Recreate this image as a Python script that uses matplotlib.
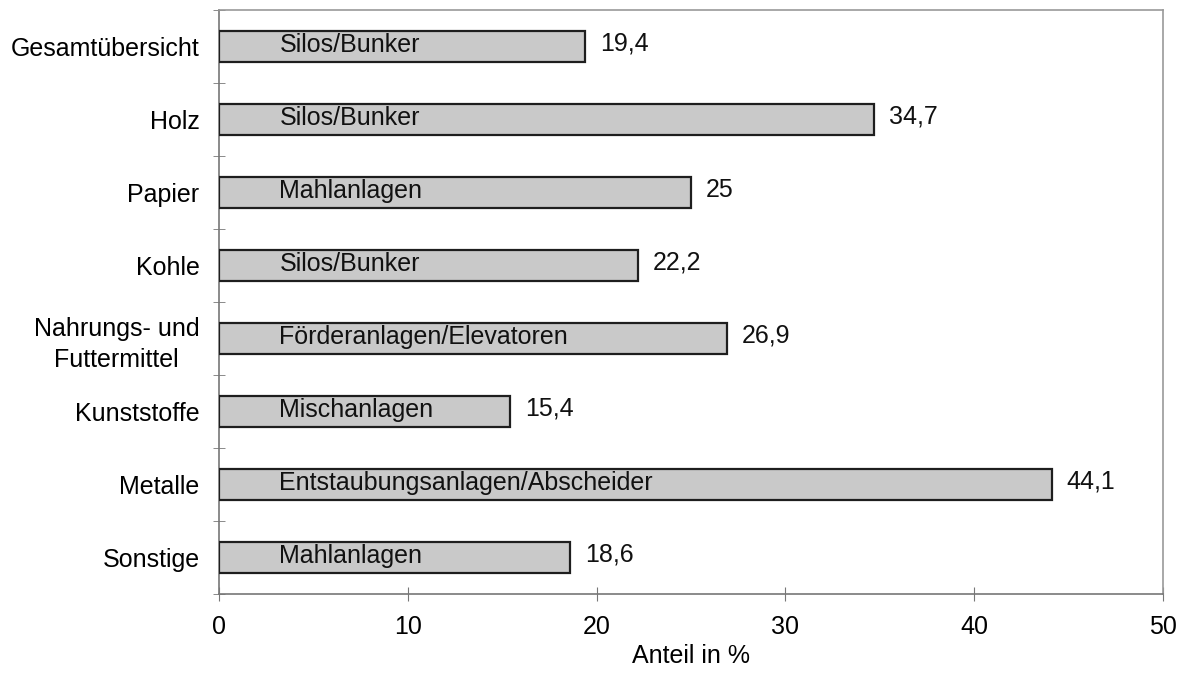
import matplotlib
matplotlib.use("Agg")
import matplotlib.pyplot as plt
import numpy as np

categories = ["Gesamtübersicht", "Holz", "Papier", "Kohle",
              "Nahrungs- und\nFuttermittel", "Kunststoffe", "Metalle", "Sonstige"]
values = [19.4, 34.7, 25, 22.2, 26.9, 15.4, 44.1, 18.6]
value_labels = ["19,4", "34,7", "25", "22,2", "26,9", "15,4", "44,1", "18,6"]
bar_texts = ["Silos/Bunker", "Silos/Bunker", "Mahlanlagen", "Silos/Bunker",
             "Förderanlagen/Elevatoren", "Mischanlagen",
             "Entstaubungsanlagen/Abscheider", "Mahlanlagen"]
xticks = [0, 10, 20, 30, 40, 50]

plt.rcParams['font.family'] = ['Liberation Sans', 'DejaVu Sans']
fs = 18

fig = plt.figure(figsize=(11.92, 6.84), dpi=100)
ax = fig.add_axes([219/1192, 1 - 594/684, (1163-219)/1192, (594-10)/684])

y = np.arange(len(categories))
ax.barh(y, values, height=0.42, color="#c9c9c9", edgecolor="#1e1e1e", linewidth=1.6, zorder=3)

for yi, v, vl, bt in zip(y, values, value_labels, bar_texts):
    ax.text(v + 0.8, yi - 0.04, vl, ha="left", va="center", fontsize=fs, color="#111")
    ax.text(3.2, yi - 0.02, bt, ha="left", va="center", fontsize=fs, color="#111", zorder=4)

ax.set_xlim(0, 50)
ax.set_ylim(len(categories) - 0.5, -0.5)
ax.set_xticks(xticks)
ax.set_xticklabels([str(t) for t in xticks], fontsize=fs)
ax.set_yticks(y)
ax.set_yticklabels(categories, fontsize=fs, multialignment="center", linespacing=1.35)
ax.set_yticks(np.arange(-0.5, len(categories), 1.0), minor=True)

ax.tick_params(axis="y", which="major", length=0, pad=14)
ax.tick_params(axis="y", which="minor", direction="inout", length=8, color="#777")
ax.tick_params(axis="x", which="major", direction="inout", length=10, color="#777", pad=10)

for side in ["top", "right"]:
    ax.spines[side].set_color("#999")
    ax.spines[side].set_linewidth(1.2)
for side in ["left", "bottom"]:
    ax.spines[side].set_color("#777")
    ax.spines[side].set_linewidth(1.2)

ax.set_xlabel("Anteil in %", fontsize=fs, labelpad=4)

fig.savefig("out.png", dpi=100)
